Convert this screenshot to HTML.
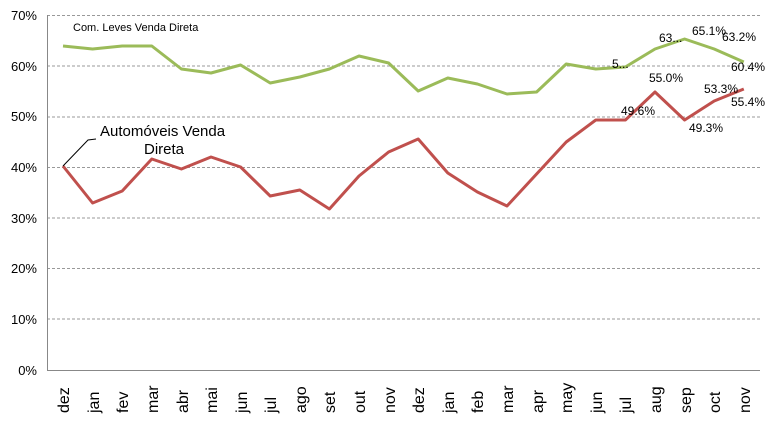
<!DOCTYPE html>
<html><head><style>body{margin:0;background:#fff}svg{display:block}text{font-family:"Liberation Sans",sans-serif;fill:#000}</style></head><body>
<svg width="768" height="422" viewBox="0 0 768 422">
<g stroke="#999" stroke-dasharray="3,2" stroke-width="1">
<line x1="47" x2="760" y1="15.5" y2="15.5"/><line x1="47" x2="760" y1="66" y2="66"/><line x1="47" x2="760" y1="117" y2="117"/><line x1="47" x2="760" y1="167.5" y2="167.5"/><line x1="47" x2="760" y1="218" y2="218"/><line x1="47" x2="760" y1="268.5" y2="268.5"/><line x1="47" x2="760" y1="319" y2="319"/>
</g>
<line x1="47.5" x2="47.5" y1="15" y2="370" stroke="#888"/>
<line x1="47" x2="760" y1="370.5" y2="370.5" stroke="#888"/>
<g font-size="13" text-anchor="end">
<text x="37" y="20">70%</text><text x="37" y="71">60%</text><text x="37" y="121">50%</text><text x="37" y="172">40%</text><text x="37" y="223">30%</text><text x="37" y="273">20%</text><text x="37" y="324">10%</text><text x="37" y="375">0%</text>
</g>
<polyline fill="none" stroke="#9BBB59" stroke-width="3" stroke-linejoin="round" points="63,46 92.6,49 122.2,46 151.8,46 181.4,69 211,73 240.6,65 270.2,83 299.8,77 329.4,69 359,56 388.6,63 418.2,91 447.8,78 477.4,84 507,94 536.6,92 566.2,64 595.8,69 625.4,67 655,49 684.6,39 714.2,49 743.8,62"/>
<polyline fill="none" stroke="#C0504D" stroke-width="3" stroke-linejoin="round" points="63,166 92.6,203 122.2,191 151.8,159 181.4,169 211,157 240.6,167 270.2,196 299.8,190 329.4,209 359,176 388.6,152 418.2,139 447.8,173 477.4,192 507,206 536.6,174 566.2,142 595.8,120 625.4,120 655,92 684.6,120 714.2,101 743.8,89"/>
<polyline fill="none" stroke="#000" stroke-width="1" points="63,166 88,140 96,139"/>
<text x="73" y="31" font-size="11">Com. Leves Venda Direta</text>
<text x="100" y="136" font-size="15">Automóveis Venda</text>
<text x="144" y="154" font-size="15">Direta</text>
<g font-size="12">
<text x="612" y="68">5...</text><text x="659" y="42">63...</text><text x="692" y="35">65.1%</text><text x="722" y="41">63.2%</text><text x="731" y="71">60.4%</text>
<text x="649" y="82">55.0%</text><text x="621" y="115">49.6%</text><text x="689" y="132">49.3%</text><text x="704" y="93">53.3%</text><text x="731" y="106">55.4%</text>
</g>
<g font-size="16">
<text transform="translate(69,413) rotate(-90)">dez</text>
<text transform="translate(99,413) rotate(-90)">jan</text>
<text transform="translate(128,413) rotate(-90)">fev</text>
<text transform="translate(158,413) rotate(-90)">mar</text>
<text transform="translate(188,413) rotate(-90)">abr</text>
<text transform="translate(217,413) rotate(-90)">mai</text>
<text transform="translate(247,413) rotate(-90)">jun</text>
<text transform="translate(276,413) rotate(-90)">jul</text>
<text transform="translate(306,413) rotate(-90)">ago</text>
<text transform="translate(335,413) rotate(-90)">set</text>
<text transform="translate(365,413) rotate(-90)">out</text>
<text transform="translate(395,413) rotate(-90)">nov</text>
<text transform="translate(424,413) rotate(-90)">dez</text>
<text transform="translate(454,413) rotate(-90)">jan</text>
<text transform="translate(483,413) rotate(-90)">feb</text>
<text transform="translate(513,413) rotate(-90)">mar</text>
<text transform="translate(543,413) rotate(-90)">apr</text>
<text transform="translate(572,413) rotate(-90)">may</text>
<text transform="translate(602,413) rotate(-90)">jun</text>
<text transform="translate(631,413) rotate(-90)">jul</text>
<text transform="translate(661,413) rotate(-90)">aug</text>
<text transform="translate(691,413) rotate(-90)">sep</text>
<text transform="translate(720,413) rotate(-90)">oct</text>
<text transform="translate(750,413) rotate(-90)">nov</text>
</g>
</svg>
</body></html>
